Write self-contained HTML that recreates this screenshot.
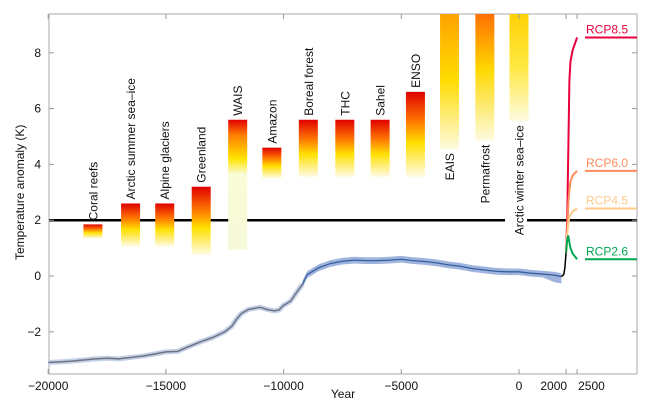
<!DOCTYPE html>
<html><head><meta charset="utf-8"><style>
body{margin:0;background:#fff;}
svg{display:block;font-family:"Liberation Sans",sans-serif;}
</style></head><body>
<svg id="c" width="652" height="405"></svg>
<script>
const barNames=["Coral reefs","Arctic summer sea\u2013ice","Alpine glaciers","Greenland","WAIS","Amazon","Boreal forest","THC","Sahel","ENSO","EAIS","Permafrost","Arctic winter sea\u2013ice"];
const barYears=[-18100,-16500,-15050,-13500,-11950,-10500,-8950,-7400,-5900,-4400,-2950,-1450,0];
const barTops=[1.85,2.6,2.6,3.2,5.6,4.6,5.6,5.6,5.6,6.6,9.5,9.5,9.5];
const barBottoms=[1.35,1.05,1.05,0.75,0.95,3.5,3.55,3.55,3.55,3.55,4.55,4.85,5.55];
const barStyle=["std","std","std","std","wais","std","std","std","std","std","eais","perm","arct"];
const tempYears=[-20000,-19500,-19000,-18000,-17500,-17000,-16000,-15500,-15000,-14500,-14000,-13500,-13000,-12500,-12200,-12000,-11800,-11500,-11000,-10700,-10400,-10200,-10000,-9700,-9500,-9200,-9000,-8500,-8000,-7500,-7000,-6500,-6000,-5500,-5000,-4500,-4000,-3500,-3000,-2500,-2000,-1500,-1000,-500,0,500,1000,1500,1800];
const tempVals=[-3.1,-3.08,-3.05,-2.97,-2.95,-2.97,-2.87,-2.8,-2.72,-2.7,-2.52,-2.35,-2.2,-2.0,-1.8,-1.55,-1.35,-1.2,-1.12,-1.2,-1.25,-1.22,-1.05,-0.9,-0.65,-0.3,0.05,0.3,0.45,0.53,0.57,0.55,0.55,0.57,0.6,0.55,0.52,0.47,0.4,0.35,0.27,0.22,0.17,0.15,0.15,0.1,0.07,0.03,-0.02];
const obsYears=[1800,1900,1950,2000];
const obsVals=[-0.02,0.05,0.3,0.85];
const rcpNames=["RCP8.5","RCP6.0","RCP4.5","RCP2.6"];
const rcpColors=["#e8003d","#ff8a5c","#ffc98a","#00a651"];
const rcpYears=[2000,2050,2100,2150,2200,2300,2500];
const rcp85=[0.85,2.0,4.5,7.0,7.7,8.1,8.55];
const rcp60=[0.85,1.6,2.6,3.1,3.4,3.6,3.77];
const rcp45=[0.85,1.5,1.9,2.1,2.2,2.32,2.42];
const rcp26=[0.85,1.3,1.45,1.2,1.0,0.8,0.6];
const xTicks=[-20000,-15000,-10000,-5000,0,2000,2500];
const xTickLabels=["\u221220000","\u221215000","\u221210000","\u22125000","0","2000","2500"];
const yTicks=[-2,0,2,4,6,8];
const yTickLabels=["\u22122","0","2","4","6","8"];

const NS="http://www.w3.org/2000/svg";
const svg=document.getElementById('c');
const L=49,R=637,T=14,B=374;
function X(y){return y<=2000?519+y*0.02354:566.1+(y-2000)*0.022;}
function Y(v){return 276-v*27.9;}
function el(t,a,p){const e=document.createElementNS(NS,t);for(const k in a)e.setAttribute(k,a[k]);(p||svg).appendChild(e);return e;}
const defs=el('defs',{});
const grads={std:[["0","#e00000"],["0.35","#ff7a00"],["0.6","#ffe000"],["1","#fffbe8"]],
wais:[["0","#e00000"],["0.12","#ff8000"],["0.3","#ffe400"],["0.42","#fafcd8"],["1","#f6f9d8"]],
eais:[["0","#ffa000"],["0.5","#ffdc00"],["1","#fdfbe0"]],
perm:[["0","#ff6a00"],["0.45","#ffd800"],["1","#fdfbe0"]],
arct:[["0","#ffd000"],["0.5","#ffe840"],["1","#fdfbe0"]]};
for(const g in grads){const lg=el('linearGradient',{id:'g'+g,x1:0,y1:0,x2:0,y2:1},defs);grads[g].forEach(s=>el('stop',{offset:s[0],'stop-color':s[1]},lg));}
const cp=el('clipPath',{id:'clip'},defs);el('rect',{x:L,y:T,width:R-L,height:B-T},cp);

const fr=el('rect',{x:L,y:T,width:R-L,height:B-T,fill:'none',stroke:'#aaa','stroke-width':1});


const tl=el('g',{});
el('line',{x1:L,x2:505,y1:Y(2),y2:Y(2),stroke:'#000','stroke-width':2.5},tl);
el('line',{x1:527,x2:R,y1:Y(2),y2:Y(2),stroke:'#000','stroke-width':2.5},tl);

const bg=el('g',{'clip-path':'url(#clip)'});
barNames.forEach((n,i)=>{
 const cx=X(barYears[i]);
 const r=el('rect',{x:cx-9.5,y:Y(barTops[i]),width:19,height:Y(barBottoms[i])-Y(barTops[i]),fill:'url(#g'+barStyle[i]+')'},bg);
 
 
 let t;
 if(barTops[i]<9){
  t=el('text',{transform:`translate(${cx+4.5},${Y(barTops[i])-4}) rotate(-90)`,'font-size':12,fill:'#111'});
 }else{
  t=el('text',{transform:`translate(${cx+4.5},${Y(barBottoms[i])+4}) rotate(-90)`,'font-size':12,fill:'#111','text-anchor':'end'});
 }
 t.textContent=n;
 
 
});

const splitIdx=tempYears.findIndex(y=>y>=-9200);
const band=[];for(let i=splitIdx;i<tempYears.length;i++)band.push(X(tempYears[i])+','+Y(tempVals[i]+0.12));
for(let i=tempYears.length-1;i>=splitIdx;i--){const w=tempYears[i]>1000?0.25:0.12;band.push(X(tempYears[i])+','+Y(tempVals[i]-w));}
const bd=el('polygon',{points:band.join(' '),fill:'#7d9bd3',opacity:0.75});

const gp=[];for(let i=0;i<=splitIdx;i++)gp.push(X(tempYears[i])+','+Y(tempVals[i]));
el('polyline',{points:gp.join(' '),fill:'none',stroke:'#c3d0ea','stroke-width':5});
const gl=el('polyline',{points:gp.join(' '),fill:'none',stroke:'#6e7480','stroke-width':1.5});

const bp=[];for(let i=splitIdx;i<tempYears.length;i++)bp.push(X(tempYears[i])+','+Y(tempVals[i]));
const bl=el('polyline',{points:bp.join(' '),fill:'none',stroke:'#3a5d9c','stroke-width':1.3});

const ob=el('polyline',{points:obsYears.map((y,i)=>X(y)+','+Y(obsVals[i])).join(' '),fill:'none',stroke:'#000','stroke-width':1.5});


[rcp85,rcp60,rcp45,rcp26].forEach((s,k)=>{
 const p=el('polyline',{points:rcpYears.map((y,i)=>X(y)+','+Y(s[i])).join(' '),fill:'none',stroke:rcpColors[k],'stroke-width':2});
 
 const end=s[s.length-1];
 el('line',{x1:585,x2:R,y1:Y(end),y2:Y(end),stroke:rcpColors[k],'stroke-width':2});
 const t=el('text',{x:586,y:Y(end)-4,'font-size':12,fill:rcpColors[k]});t.textContent=rcpNames[k];
 
});

xTicks.forEach((v,i)=>{
 el('line',{x1:X(v),x2:X(v),y1:B,y2:B-5,stroke:'#999'});
 el('line',{x1:X(v),x2:X(v),y1:T,y2:T+5,stroke:'#999'});
 let anchor='middle',dx=0;
 if(v==2000){anchor='end';dx=1;}
 if(v==2500){anchor='start';dx=1;}
 const t=el('text',{x:X(v)+dx,y:B+16,'font-size':12,'text-anchor':anchor,fill:'#111'});t.textContent=xTickLabels[i];
 
});
yTicks.forEach((v,i)=>{
 el('line',{x1:L,x2:L+5,y1:Y(v),y2:Y(v),stroke:'#999'});
 el('line',{x1:R,x2:R-5,y1:Y(v),y2:Y(v),stroke:'#999'});
 const t=el('text',{x:L-8,y:Y(v)+4,'font-size':12,'text-anchor':'end',fill:'#111'});t.textContent=yTickLabels[i];
 
});
const xt=el('text',{x:343,y:398,'font-size':12,'text-anchor':'middle',fill:'#111'});xt.textContent='Year';

const yt=el('text',{transform:`translate(24,${Y(3)}) rotate(-90)`,'font-size':12,'text-anchor':'middle',fill:'#111'});yt.textContent='Temperature anomaly (K)';

</script>
</body></html>
